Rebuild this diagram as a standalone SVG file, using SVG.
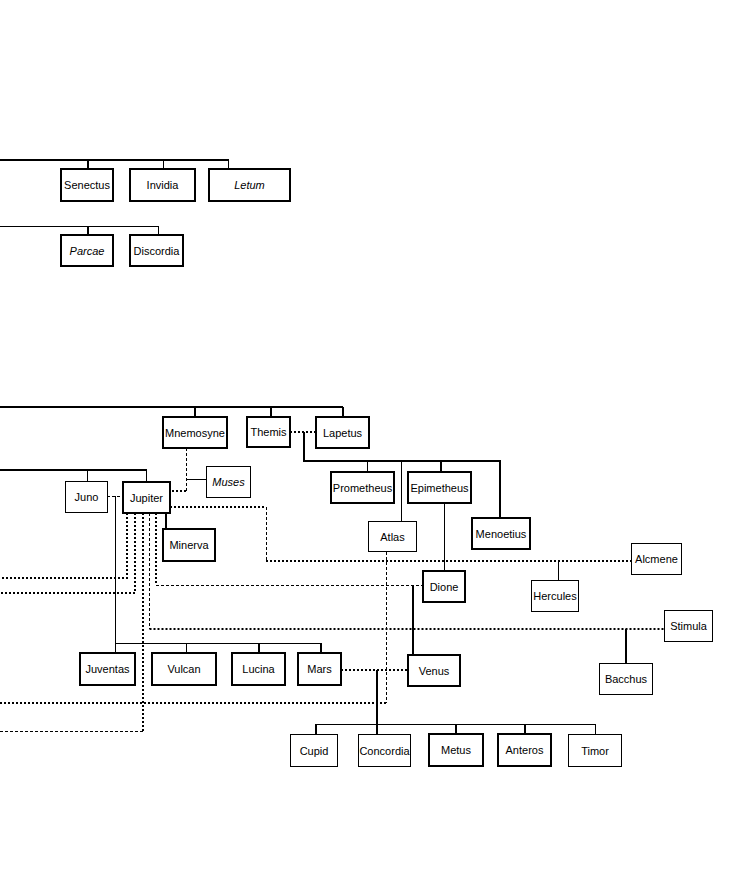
<svg xmlns="http://www.w3.org/2000/svg" width="755" height="873" viewBox="0 0 755 873">
<style>
rect.b{fill:#fff;stroke:#000;stroke-width:2}
rect.t{fill:#fff;stroke:#000;stroke-width:1}
text{font-family:"Liberation Sans",Arial,sans-serif;font-size:11px;text-anchor:middle;fill:#000}
text.i{font-style:italic}
#connectors path{fill:none;stroke:#000}
.s1{stroke-width:1}
.s2{stroke-width:2}
.dot{stroke-width:2;stroke-dasharray:2 2}
.dsh{stroke-width:1;stroke-dasharray:3 2}
</style>
<rect width="755" height="873" fill="#fff"/>
<g id="connectors">
<path class="s2" d="M0 160H229M88 160V169"/>
<path class="s1" d="M163.5 160V169M228.5 160V169"/>
<path class="s1" d="M0 226.5H158.5M158.5 226V235"/>
<path class="s2" d="M88 226V235"/>
<path class="s2" d="M0 407H343M195 407V417M271 407V417M343 407V417"/>
<path class="s2" d="M0 470H147"/>
<path class="s1" d="M87.5 470V481M146.5 470V482"/>
<path class="dsh" d="M107 496.5H123"/>
<path class="s1" d="M115.5 496V643.5H321M186.5 643V653M115.5 643V653"/>
<path class="s2" d="M259 643V653M321 643V653"/>
<path class="dsh" d="M186.5 448V491"/>
<path class="dot" d="M186 491H170"/>
<path class="s1" d="M186 479.5H207"/>
<path class="dot" d="M290 432H316"/>
<path class="s2" d="M304 432V461H500V518M441 461V472"/>
<path class="s1" d="M367.5 461V472M401.5 461V522M444.5 503V571"/>
<path class="s2" d="M166 513V529"/>
<path class="dot" d="M170 507H266"/>
<path class="dsh" d="M266.5 507V561"/>
<path class="dot" d="M266 561H632"/>
<path class="s1" d="M558.5 561V580"/>
<path class="dot" d="M127 513V578H0"/>
<path class="dot" d="M135 513V593H0"/>
<path class="dot" d="M143 513V731"/>
<path class="dsh" d="M143 731.5H0"/>
<path class="dsh" d="M149.5 513V629"/>
<path class="dot" d="M149.5 629H664"/>
<path class="s2" d="M626 629V663"/>
<path class="dot" d="M156 513V585"/>
<path class="dsh" d="M156 585.5H423"/>
<path class="s2" d="M413 585V655"/>
<path class="dsh" d="M386.5 552V703"/>
<path class="dot" d="M386 703H0"/>
<path class="dot" d="M341 670H408"/>
<path class="s2" d="M377 670V734"/>
<path class="s1" d="M316 724.5H595M595.5 724V734"/>
<path class="s2" d="M316 724V734M456 724V734M525 724V734"/>
</g>
<g id="senectus"><rect class="b" x="61" y="169" width="52" height="32"/><text x="87" y="189">Senectus</text></g>
<g id="invidia"><rect class="b" x="130" y="169" width="65" height="32"/><text x="162.5" y="189">Invidia</text></g>
<g id="letum"><rect class="b" x="209" y="169" width="81" height="32"/><text class="i" x="249.5" y="189">Letum</text></g>
<g id="parcae"><rect class="b" x="61" y="235" width="52" height="31"/><text class="i" x="87" y="254.5">Parcae</text></g>
<g id="discordia"><rect class="b" x="130" y="235" width="53" height="31"/><text x="156.5" y="254.5">Discordia</text></g>
<g id="mnemosyne"><rect class="b" x="163" y="417" width="64" height="31"/><text x="195" y="436.5">Mnemosyne</text></g>
<g id="themis"><rect class="b" x="247" y="417" width="43" height="30"/><text x="268.5" y="436">Themis</text></g>
<g id="lapetus"><rect class="b" x="316" y="417" width="53" height="31"/><text x="342.5" y="436.5">Lapetus</text></g>
<g id="juno"><rect class="t" x="65.5" y="481.5" width="42" height="31"/><text x="86.5" y="501">Juno</text></g>
<g id="jupiter"><rect class="b" x="123" y="482" width="47" height="31"/><text x="146.5" y="501.5">Jupiter</text></g>
<g id="muses"><rect class="t" x="206.5" y="466.5" width="44" height="31"/><text class="i" x="228.5" y="486">Muses</text></g>
<g id="prometheus"><rect class="b" x="331" y="472" width="63" height="31"/><text x="362.5" y="491.5">Prometheus</text></g>
<g id="epimetheus"><rect class="b" x="408" y="472" width="63" height="31"/><text x="439.5" y="491.5">Epimetheus</text></g>
<g id="atlas"><rect class="t" x="368.5" y="521.5" width="48" height="30"/><text x="392.5" y="540.5">Atlas</text></g>
<g id="menoetius"><rect class="b" x="472" y="518" width="58" height="31"/><text x="501" y="537.5">Menoetius</text></g>
<g id="minerva"><rect class="b" x="163" y="529" width="52" height="32"/><text x="189" y="549">Minerva</text></g>
<g id="alcmene"><rect class="t" x="631.5" y="543.5" width="50" height="31"/><text x="656.5" y="563">Alcmene</text></g>
<g id="dione"><rect class="b" x="423" y="571" width="42" height="31"/><text x="444" y="590.5">Dione</text></g>
<g id="hercules"><rect class="t" x="531.5" y="580.5" width="47" height="31"/><text x="555" y="600">Hercules</text></g>
<g id="stimula"><rect class="t" x="664.5" y="610.5" width="48" height="31"/><text x="688.5" y="630">Stimula</text></g>
<g id="juventas"><rect class="b" x="80" y="653" width="55" height="32"/><text x="107.5" y="673">Juventas</text></g>
<g id="vulcan"><rect class="b" x="152" y="653" width="64" height="32"/><text x="184" y="673">Vulcan</text></g>
<g id="lucina"><rect class="b" x="232" y="653" width="53" height="32"/><text x="258.5" y="673">Lucina</text></g>
<g id="mars"><rect class="b" x="298" y="653" width="43" height="32"/><text x="319.5" y="673">Mars</text></g>
<g id="venus"><rect class="b" x="408" y="655" width="52" height="31"/><text x="434" y="674.5">Venus</text></g>
<g id="bacchus"><rect class="t" x="599.5" y="663.5" width="53" height="31"/><text x="626" y="683">Bacchus</text></g>
<g id="cupid"><rect class="t" x="290.5" y="734.5" width="47" height="32"/><text x="314" y="754.5">Cupid</text></g>
<g id="concordia"><rect class="t" x="358.5" y="734.5" width="52" height="32"/><text x="384.5" y="754.5">Concordia</text></g>
<g id="metus"><rect class="b" x="429" y="734" width="54" height="32"/><text x="456" y="754">Metus</text></g>
<g id="anteros"><rect class="b" x="498" y="734" width="53" height="32"/><text x="524.5" y="754">Anteros</text></g>
<g id="timor"><rect class="t" x="568.5" y="734.5" width="53" height="32"/><text x="595" y="754.5">Timor</text></g>
</svg>
